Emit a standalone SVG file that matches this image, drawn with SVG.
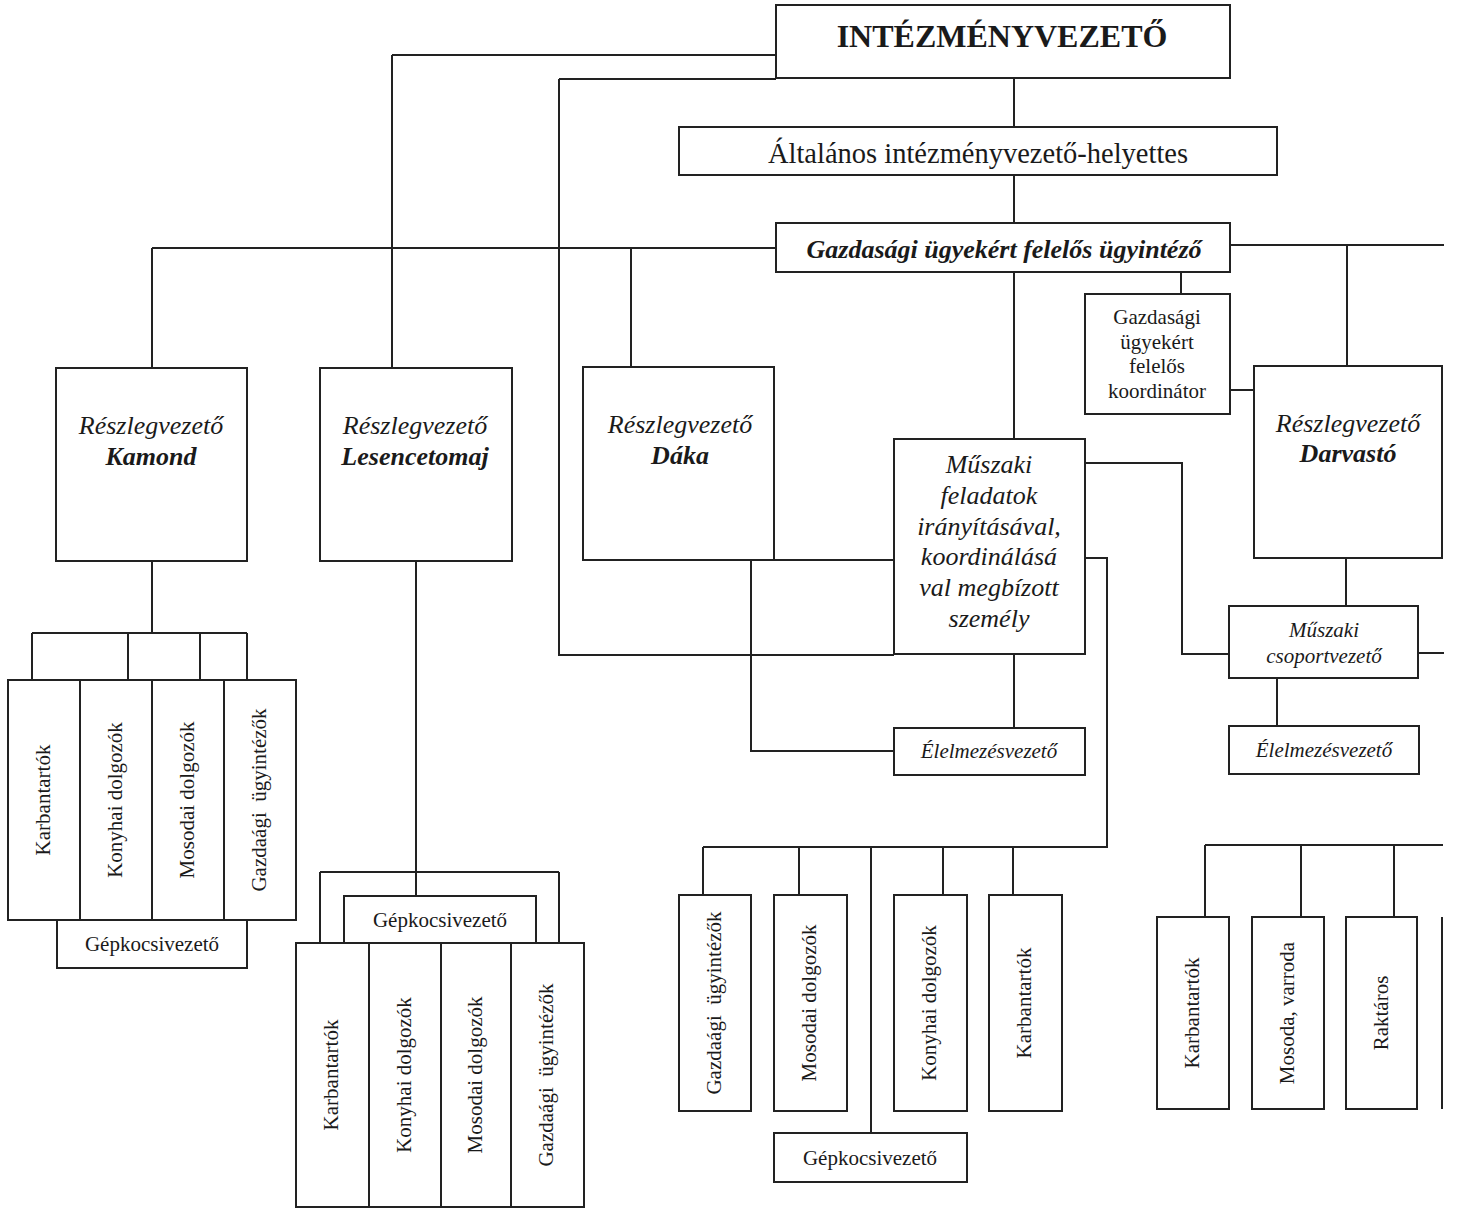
<svg xmlns="http://www.w3.org/2000/svg" width="1457" height="1209" viewBox="0 0 1457 1209">
<style>
.b{fill:#fff;stroke:#222;stroke-width:2}
.c{fill:none;stroke:#222;stroke-width:2}
text{font-family:"Liberation Serif","Times New Roman",serif;fill:#1a1a1a}
.m{text-anchor:middle}
.i{font-style:italic}
.bi{font-style:italic;font-weight:bold}
.v{font-size:21px;text-anchor:middle}
</style>
<rect width="1457" height="1209" fill="#fff"/>
<g id="connectors" class="c">
<path d="M392,55H776M392,55V368"/>
<path d="M559,79H776M559,79V655H894"/>
<path d="M152,248H776M152,248V368M631,248V368"/>
<path d="M1230,245H1444M1347,245V367"/>
<path d="M1014,78V127M1014,175V222M1014,272V439M1014,654V728"/>
<path d="M1181,272V294"/>
<path d="M1230,390H1254"/>
<path d="M1346,558V606"/>
<path d="M1085,463H1182V654H1229"/>
<path d="M1418,653H1444"/>
<path d="M1277,678V726"/>
<path d="M1085,558H1107V847H703M703,847V895M799,847V895M943,847V895M1013,847V895M871,847V1133"/>
<path d="M774,560H894M751,560V751H894"/>
<path d="M152,561V633M32,633H247M32,633V680M128,633V680M200,633V680M247,633V680"/>
<path d="M416,561V896M320,872H559M320,872V943M559,872V943"/>
<path d="M1205,845H1443M1205,845V917M1301,845V917M1394,845V917"/>
<path d="M1442,917V1109"/>
</g>
<g id="n-intezmenyvezeto"><rect class="b" x="776" y="5" width="454" height="73"/><text class="m" x="1002" y="47" font-size="32" font-weight="bold">INTÉZMÉNYVEZETŐ</text></g>
<g id="n-helyettes"><rect class="b" x="679" y="127" width="598" height="48"/><text class="m" x="978" y="163" font-size="28.5">Általános intézményvezető-helyettes</text></g>
<g id="n-gazdasagi"><rect class="b" x="776" y="223" width="454" height="49"/><text class="m bi" x="1004" y="258" font-size="26">Gazdasági ügyekért felelős ügyintéző</text></g>
<g id="n-koordinator"><rect class="b" x="1085" y="294" width="145" height="120"/><text class="m" font-size="21"><tspan x="1157" y="324">Gazdasági</tspan><tspan x="1157" y="349">ügyekért</tspan><tspan x="1157" y="373">felelős</tspan><tspan x="1157" y="398">koordinátor</tspan></text></g>
<g id="n-kamond"><rect class="b" x="56" y="368" width="191" height="193"/><text class="m" font-size="26"><tspan class="i" x="151" y="434">Részlegvezető</tspan><tspan class="bi" x="151" y="465">Kamond</tspan></text></g>
<g id="n-lesencetomaj"><rect class="b" x="320" y="368" width="192" height="193"/><text class="m" font-size="26"><tspan class="i" x="415" y="434">Részlegvezető</tspan><tspan class="bi" x="415" y="465">Lesencetomaj</tspan></text></g>
<g id="n-daka"><rect class="b" x="583" y="367" width="191" height="193"/><text class="m" font-size="26"><tspan class="i" x="680" y="433">Részlegvezető</tspan><tspan class="bi" x="680" y="464">Dáka</tspan></text></g>
<g id="n-darvasto"><rect class="b" x="1254" y="366" width="188" height="192"/><text class="m" font-size="26"><tspan class="i" x="1348" y="432">Részlegvezető</tspan><tspan class="bi" x="1348" y="462">Darvastó</tspan></text></g>
<g id="n-muszaki"><rect class="b" x="894" y="439" width="191" height="215"/><text class="m i" font-size="26"><tspan x="989" y="473">Műszaki</tspan><tspan x="989" y="504">feladatok</tspan><tspan x="989" y="535">irányításával,</tspan><tspan x="989" y="565">koordinálásá</tspan><tspan x="989" y="596">val megbízott</tspan><tspan x="989" y="627">személy</tspan></text></g>
<g id="n-elelmezes1"><rect class="b" x="894" y="728" width="191" height="47"/><text class="m i" x="989" y="758" font-size="21">Élelmezésvezető</text></g>
<g id="n-csoport"><rect class="b" x="1229" y="606" width="189" height="72"/><text class="m i" font-size="21"><tspan x="1324" y="637">Műszaki</tspan><tspan x="1324" y="663">csoportvezető</tspan></text></g>
<g id="n-elelmezes2"><rect class="b" x="1229" y="726" width="190" height="48"/><text class="m i" x="1324" y="757" font-size="21">Élelmezésvezető</text></g>
<g id="g-kamond">
<rect class="b" x="57" y="920" width="190" height="48"/><text class="m" x="152" y="951" font-size="21">Gépkocsivezető</text>
<rect class="b" x="8" y="680" width="72" height="240"/><text class="v" transform="translate(50,800) rotate(-90)">Karbantartók</text>
<rect class="b" x="80" y="680" width="72" height="240"/><text class="v" transform="translate(122,800) rotate(-90)">Konyhai dolgozók</text>
<rect class="b" x="152" y="680" width="72" height="240"/><text class="v" transform="translate(194,800) rotate(-90)">Mosodai dolgozók</text>
<rect class="b" x="224" y="680" width="72" height="240"/><text class="v" xml:space="preserve" transform="translate(266,800) rotate(-90)">Gazdaági  ügyintézők</text>
</g>
<g id="g-lesencetomaj">
<rect class="b" x="344" y="896" width="192" height="47"/><text class="m" x="440" y="927" font-size="21">Gépkocsivezető</text>
<rect class="b" x="296" y="943" width="73" height="264"/><text class="v" transform="translate(338,1075) rotate(-90)">Karbantartók</text>
<rect class="b" x="369" y="943" width="72" height="264"/><text class="v" transform="translate(411,1075) rotate(-90)">Konyhai dolgozók</text>
<rect class="b" x="441" y="943" width="70" height="264"/><text class="v" transform="translate(482,1075) rotate(-90)">Mosodai dolgozók</text>
<rect class="b" x="511" y="943" width="73" height="264"/><text class="v" xml:space="preserve" transform="translate(553,1075) rotate(-90)">Gazdaági  ügyintézők</text>
</g>
<g id="g-daka">
<rect class="b" x="679" y="895" width="72" height="216"/><text class="v" xml:space="preserve" transform="translate(721,1003) rotate(-90)">Gazdaági  ügyintézők</text>
<rect class="b" x="774" y="895" width="73" height="216"/><text class="v" transform="translate(816,1003) rotate(-90)">Mosodai dolgozók</text>
<rect class="b" x="894" y="895" width="73" height="216"/><text class="v" transform="translate(936,1003) rotate(-90)">Konyhai dolgozók</text>
<rect class="b" x="989" y="895" width="73" height="216"/><text class="v" transform="translate(1031,1003) rotate(-90)">Karbantartók</text>
<rect class="b" x="774" y="1133" width="193" height="49"/><text class="m" x="870" y="1165" font-size="21">Gépkocsivezető</text>
</g>
<g id="g-darvasto">
<rect class="b" x="1157" y="917" width="72" height="192"/><text class="v" transform="translate(1199,1013) rotate(-90)">Karbantartók</text>
<rect class="b" x="1252" y="917" width="72" height="192"/><text class="v" transform="translate(1294,1013) rotate(-90)">Mosoda, varroda</text>
<rect class="b" x="1346" y="917" width="71" height="192"/><text class="v" transform="translate(1388,1013) rotate(-90)">Raktáros</text>
</g>
</svg>
